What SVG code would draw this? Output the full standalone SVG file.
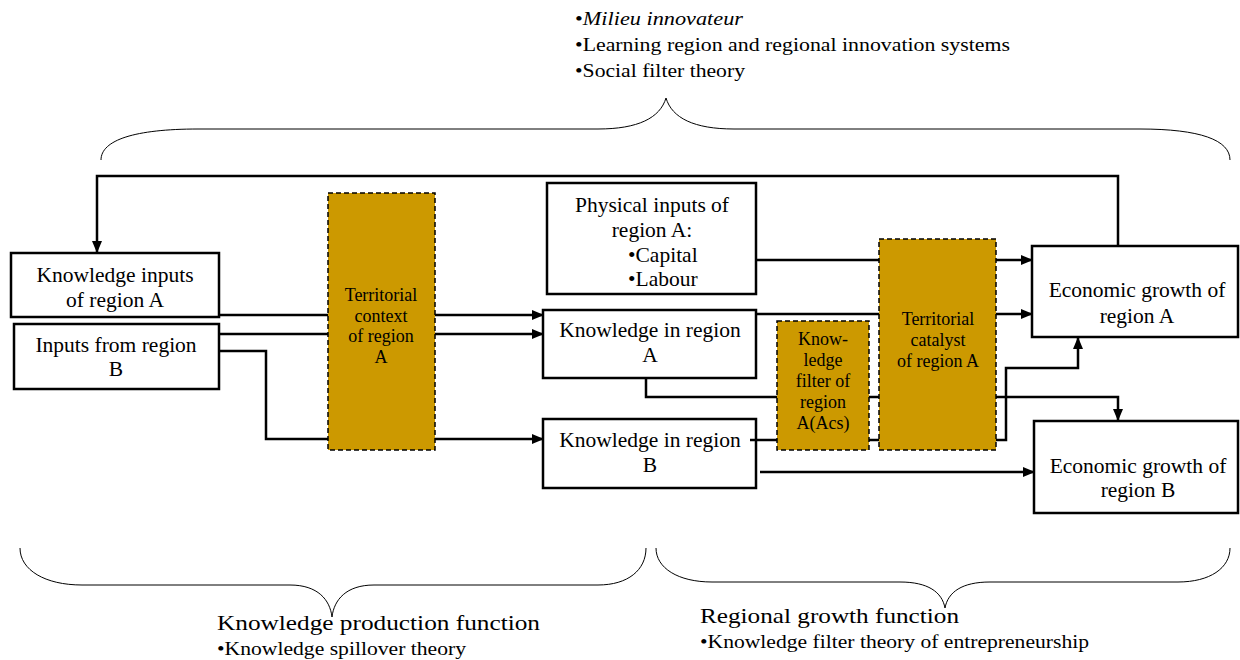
<svg xmlns="http://www.w3.org/2000/svg" width="1240" height="660" viewBox="0 0 1240 660">
<style>
  text { font-family: "Liberation Serif", "Times New Roman", serif; fill: #000; }
  .box { fill: #fff; stroke: #000; stroke-width: 2.5; }
  .gold { fill: #CC9900; stroke: #000; stroke-width: 1.5; stroke-dasharray: 5 3; }
  .t { font-size: 21.5px; text-anchor: middle; }
  .g { font-size: 18px; text-anchor: middle; }
  .ln { fill: none; stroke: #000; stroke-width: 2.5; }
  .brace { fill: none; stroke: #000; stroke-width: 1; }
  .note { font-size: 18px; }
  .head { font-size: 21px; }
</style>
<defs>
  <marker id="arr" markerUnits="userSpaceOnUse" markerWidth="12" markerHeight="10" refX="11" refY="5" orient="auto">
    <path d="M0,0 L12,5 L0,10 Z" fill="#000"/>
  </marker>
</defs>

<g id="annotations">
  <text class="note" x="575" y="25" textLength="168" lengthAdjust="spacingAndGlyphs">•<tspan font-style="italic">Milieu innovateur</tspan></text>
  <text class="note" x="575" y="51" textLength="435" lengthAdjust="spacingAndGlyphs">•Learning region and regional innovation systems</text>
  <text class="note" x="575" y="77" textLength="170" lengthAdjust="spacingAndGlyphs">•Social filter theory</text>
  <path class="brace" d="M101,160 C101,140 135,129 198,129 L598,129 C638,129 660,118 666,98 C672,118 694,129 734,129 L1140,129 C1200,129 1230,140 1230,160"/>
  <path class="brace" d="M20,548 C20,570 45,585 82,585 L290,585 C318,585 330,600 332,617 C334,600 346,585 374,585 L598,585 C628,585 646,570 646,548"/>
  <path class="brace" d="M656,548 C656,568 678,582 712,582 L900,582 C928,582 942,592 945,608 C948,592 962,582 990,582 L1178,582 C1210,582 1230,568 1230,548"/>
  <text class="head" x="217" y="630" textLength="323" lengthAdjust="spacingAndGlyphs">Knowledge production function</text>
  <text class="note" x="217" y="655" textLength="249" lengthAdjust="spacingAndGlyphs">•Knowledge spillover theory</text>
  <text class="head" x="700" y="623" textLength="259" lengthAdjust="spacingAndGlyphs">Regional growth function</text>
  <text class="note" x="700" y="648" textLength="389" lengthAdjust="spacingAndGlyphs">•Knowledge filter theory of entrepreneurship</text>
</g>

<g id="knowledge-inputs-a">
  <rect class="box" x="11" y="253" width="208" height="64"/>
  <text class="t" x="115" y="282">Knowledge inputs</text>
  <text class="t" x="115" y="307">of region A</text>
</g>
<g id="inputs-b">
  <rect class="box" x="14" y="324" width="205" height="65"/>
  <text class="t" x="116" y="352">Inputs from region</text>
  <text class="t" x="116" y="376">B</text>
</g>
<g id="territorial-context">
  <rect class="gold" x="328" y="193" width="107" height="257"/>
  <text class="g" x="381" y="301">Territorial</text>
  <text class="g" x="381" y="322">context</text>
  <text class="g" x="381" y="342">of region</text>
  <text class="g" x="381" y="363">A</text>
</g>
<g id="physical-inputs">
  <rect class="box" x="547" y="183" width="209" height="111"/>
  <text class="t" x="652" y="212">Physical inputs of</text>
  <text class="t" x="652" y="237">region A:</text>
  <text class="t" x="628" y="262" style="text-anchor:start">•Capital</text>
  <text class="t" x="628" y="286" style="text-anchor:start">•Labour</text>
</g>
<g id="knowledge-a">
  <rect class="box" x="543" y="310" width="213" height="68"/>
  <text class="t" x="650" y="337">Knowledge in region</text>
  <text class="t" x="650" y="362">A</text>
</g>
<g id="knowledge-b">
  <rect class="box" x="543" y="419" width="213" height="69"/>
  <text class="t" x="650" y="447">Knowledge in region</text>
  <text class="t" x="650" y="472">B</text>
</g>
<g id="knowledge-filter">
  <rect class="gold" x="777" y="321" width="92" height="129"/>
  <text class="g" x="823" y="345">Know-</text>
  <text class="g" x="823" y="366">ledge</text>
  <text class="g" x="823" y="387">filter of</text>
  <text class="g" x="823" y="408">region</text>
  <text class="g" x="823" y="429">A(Acs)</text>
</g>
<g id="territorial-catalyst">
  <rect class="gold" x="879" y="239" width="117" height="211"/>
  <text class="g" x="938" y="325">Territorial</text>
  <text class="g" x="938" y="346">catalyst</text>
  <text class="g" x="938" y="367">of region A</text>
</g>
<g id="growth-a">
  <rect class="box" x="1032" y="246" width="206" height="91"/>
  <text class="t" x="1137" y="297">Economic growth of</text>
  <text class="t" x="1137" y="323">region A</text>
</g>
<g id="growth-b">
  <rect class="box" x="1034" y="421" width="204" height="92"/>
  <text class="t" x="1138" y="473">Economic growth of</text>
  <text class="t" x="1138" y="497">region B</text>
</g>

<g id="connectors">
  <polyline class="ln" points="1118,246 1118,176 97,176 97,252" marker-end="url(#arr)"/>
  <line class="ln" x1="219" y1="315" x2="328" y2="315"/>
  <line class="ln" x1="435" y1="315" x2="543" y2="315" marker-end="url(#arr)"/>
  <line class="ln" x1="219" y1="334" x2="328" y2="334"/>
  <line class="ln" x1="435" y1="334" x2="543" y2="334" marker-end="url(#arr)"/>
  <polyline class="ln" points="219,351 266,351 266,439 328,439"/>
  <line class="ln" x1="435" y1="439" x2="543" y2="439" marker-end="url(#arr)"/>
  <line class="ln" x1="756" y1="260" x2="879" y2="260"/>
  <line class="ln" x1="996" y1="260" x2="1032" y2="260" marker-end="url(#arr)"/>
  <line class="ln" x1="756" y1="314" x2="879" y2="314"/>
  <line class="ln" x1="996" y1="314" x2="1032" y2="314" marker-end="url(#arr)"/>
  <polyline class="ln" points="646,378 646,397 777,397"/>
  <line class="ln" x1="869" y1="397" x2="879" y2="397"/>
  <polyline class="ln" points="996,397 1118,397 1118,420" marker-end="url(#arr)"/>
  <line class="ln" x1="750" y1="440" x2="777" y2="440"/>
  <line class="ln" x1="869" y1="440" x2="879" y2="440"/>
  <polyline class="ln" points="996,440 1006,440 1006,368 1078,368 1078,338" marker-end="url(#arr)"/>
  <line class="ln" x1="760" y1="472" x2="1034" y2="472" marker-end="url(#arr)"/>
</g>
</svg>
